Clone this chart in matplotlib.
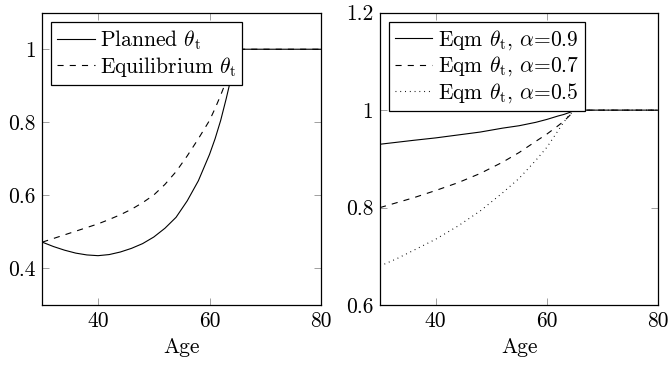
import numpy as np
import matplotlib
matplotlib.use('Agg')
import matplotlib.pyplot as plt

plt.rcParams['font.family'] = 'serif'
plt.rcParams['font.serif'] = ['cmr10', 'DejaVu Serif']
plt.rcParams['mathtext.fontset'] = 'cm'
plt.rcParams['axes.unicode_minus'] = False
plt.rcParams['axes.formatter.use_mathtext'] = True

# left panel: planned vs equilibrium
age_planned = [30, 32, 34, 36, 38, 40, 42, 44, 46, 48, 50, 52, 54, 56, 58, 60, 61, 62, 63, 64, 65, 70, 75, 80]
planned = [0.472, 0.460, 0.450, 0.442, 0.437, 0.435, 0.438, 0.445, 0.455, 0.468, 0.486, 0.510, 0.540,
           0.585, 0.640, 0.712, 0.755, 0.805, 0.865, 0.930, 1.0, 1.0, 1.0, 1.0]
age_eq = [30, 32, 34, 36, 38, 40, 42, 44, 46, 48, 50, 52, 54, 56, 58, 60, 61, 62, 63, 64, 65, 70, 75, 80]
equilibrium = [0.472, 0.482, 0.492, 0.502, 0.512, 0.522, 0.534, 0.547, 0.562, 0.580, 0.601, 0.630, 0.665,
               0.708, 0.755, 0.805, 0.838, 0.874, 0.913, 0.955, 1.0, 1.0, 1.0, 1.0]

# right panel: equilibrium for different alpha
age_a = [30, 33, 36, 40, 44, 48, 52, 55, 58, 60, 62, 63, 64, 65, 70, 75, 80]
eq_a09 = [0.930, 0.934, 0.938, 0.943, 0.949, 0.955, 0.963, 0.968, 0.975, 0.981, 0.988, 0.991, 0.995, 1.0, 1.0, 1.0, 1.0]
eq_a07 = [0.800, 0.810, 0.820, 0.835, 0.851, 0.870, 0.893, 0.913, 0.936, 0.951, 0.968, 0.977, 0.988, 1.0, 1.0, 1.0, 1.0]
eq_a05 = [0.680, 0.695, 0.712, 0.735, 0.762, 0.793, 0.830, 0.860, 0.897, 0.924, 0.958, 0.975, 0.990, 1.0, 1.0, 1.0, 1.0]

fs = 15.5
lw = 0.8

fig = plt.figure(figsize=(6.7, 3.65), dpi=100)
ax1 = fig.add_axes([0.0631, 0.1644, 0.4160, 0.8008])
ax2 = fig.add_axes([0.5672, 0.1644, 0.4153, 0.8008])

ax1.plot(age_planned, planned, color='black', lw=lw, label=r'Planned $\theta_{\rm t}$')
ax1.plot(age_eq, equilibrium, color='black', lw=lw, dashes=(5.5, 5.5), label=r'Equilibrium $\theta_{\rm t}$')
ax1.set_ylim(0.3, 1.1)
ax1.set_yticks([0.4, 0.6, 0.8, 1.0])
ax1.set_yticklabels(['0.4', '0.6', '0.8', '1'])

ax2.plot(age_a, eq_a09, color='black', lw=lw, label=r'Eqm $\theta_{\rm t}$, $\alpha$=0.9')
ax2.plot(age_a, eq_a07, color='black', lw=lw, dashes=(5.5, 5.5), label=r'Eqm $\theta_{\rm t}$, $\alpha$=0.7')
ax2.plot(age_a, eq_a05, color='black', lw=lw, dashes=(0.8, 3.5), label=r'Eqm $\theta_{\rm t}$, $\alpha$=0.5')
ax2.set_ylim(0.6, 1.2)
ax2.set_yticks([0.6, 0.8, 1.0, 1.2])
ax2.set_yticklabels(['0.6', '0.8', '1', '1.2'])

for ax in (ax1, ax2):
    ax.set_xlim(30, 80)
    ax.set_xticks([40, 60, 80])
    ax.set_xticklabels(['40', '60', '80'])
    ax.set_xlabel('Age', fontsize=fs, labelpad=4)
    ax.tick_params(direction='in', top=True, right=True, length=5, width=0.6,
                   color='#909090', labelsize=fs, pad=5, labelcolor='black')
    for s in ax.spines.values():
        s.set_linewidth(0.9)
        s.set_color('black')
    leg = ax.legend(loc='upper left', bbox_to_anchor=(0.031, 0.967), borderaxespad=0,
                    fontsize=fs, fancybox=False, framealpha=1, edgecolor='black',
                    handlelength=1.75, handletextpad=0.25, labelspacing=0.12, borderpad=0.28)
    leg.get_frame().set_linewidth(0.9)

fig.savefig('out.png', dpi=100)
